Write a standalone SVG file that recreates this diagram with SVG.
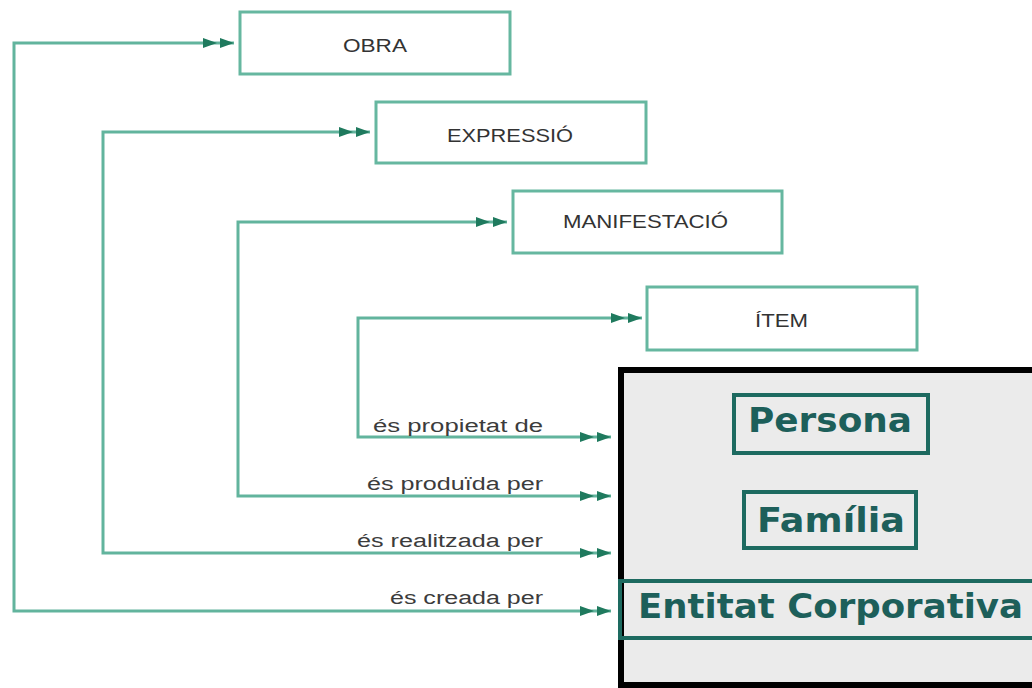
<svg xmlns="http://www.w3.org/2000/svg" width="1032" height="688" viewBox="0 0 1032 688">
<style>
.node rect{fill:#ffffff;stroke:#66b7a0;stroke-width:3}
.node text{font-family:"Liberation Sans",Arial,sans-serif;font-size:19px;fill:#333333}
.conn path{fill:none;stroke:#62b49d;stroke-width:3;marker-start:url(#dbl);marker-end:url(#dbl)}
.lbl{font-family:"Liberation Sans",Arial,sans-serif;font-size:18px;fill:#3c3c3c}
.ent rect{fill:none;stroke:#1d6a60;stroke-width:4}
.ent text{font-family:"DejaVu Sans",Verdana,sans-serif;font-weight:bold;font-size:34px;fill:#1d5f5a}
</style>
<defs>
<marker id="dbl" markerUnits="userSpaceOnUse" viewBox="0 0 31 10" refX="31" refY="5" markerWidth="31" markerHeight="10" orient="auto-start-reverse">
<path d="M0,0 L14,5 L0,10 Z M17,0 L31,5 L17,10 Z" fill="#1f7a5e"/>
</marker>
</defs>
<rect width="1032" height="688" fill="#ffffff"/>
<g id="group-box">
<rect x="621" y="370" width="500" height="315" fill="#ebebeb" stroke="#000000" stroke-width="6"/>
</g>
<g id="persona" class="ent">
<rect x="734" y="395" width="194" height="58"/>
<text x="748" y="432" textLength="164" lengthAdjust="spacingAndGlyphs">Persona</text>
</g>
<g id="familia" class="ent">
<rect x="744" y="492" width="172" height="56"/>
<text x="757" y="532" textLength="148" lengthAdjust="spacingAndGlyphs">Família</text>
</g>
<g id="entitat" class="ent">
<rect x="620" y="581" width="500" height="57"/>
<text x="638" y="618" textLength="385" lengthAdjust="spacingAndGlyphs">Entitat Corporativa</text>
</g>
<g id="obra" class="node">
<rect x="240" y="12" width="270" height="62"/>
<text x="343" y="52" textLength="64" lengthAdjust="spacingAndGlyphs">OBRA</text>
</g>
<g id="expressio" class="node">
<rect x="376" y="102" width="270" height="61"/>
<text x="447" y="142" textLength="126" lengthAdjust="spacingAndGlyphs">EXPRESSIÓ</text>
</g>
<g id="manifestacio" class="node">
<rect x="513" y="191" width="269" height="62"/>
<text x="563" y="228" textLength="165" lengthAdjust="spacingAndGlyphs">MANIFESTACIÓ</text>
</g>
<g id="item" class="node">
<rect x="647" y="287" width="270" height="63"/>
<text x="755" y="327" textLength="53" lengthAdjust="spacingAndGlyphs">ÍTEM</text>
</g>
<g id="connectors" class="conn">
<path d="M234,43 H14 V611 H611"/>
<path d="M370,132 H103 V553 H611"/>
<path d="M507,222 H238 V496 H611"/>
<path d="M642,318 H358 V437 H611"/>
</g>
<g id="labels">
<text class="lbl" x="373" y="432" textLength="170" lengthAdjust="spacingAndGlyphs">és propietat de</text>
<text class="lbl" x="367" y="490" textLength="176" lengthAdjust="spacingAndGlyphs">és produïda per</text>
<text class="lbl" x="357" y="547" textLength="186" lengthAdjust="spacingAndGlyphs">és realitzada per</text>
<text class="lbl" x="390" y="604" textLength="153" lengthAdjust="spacingAndGlyphs">és creada per</text>
</g>
</svg>
